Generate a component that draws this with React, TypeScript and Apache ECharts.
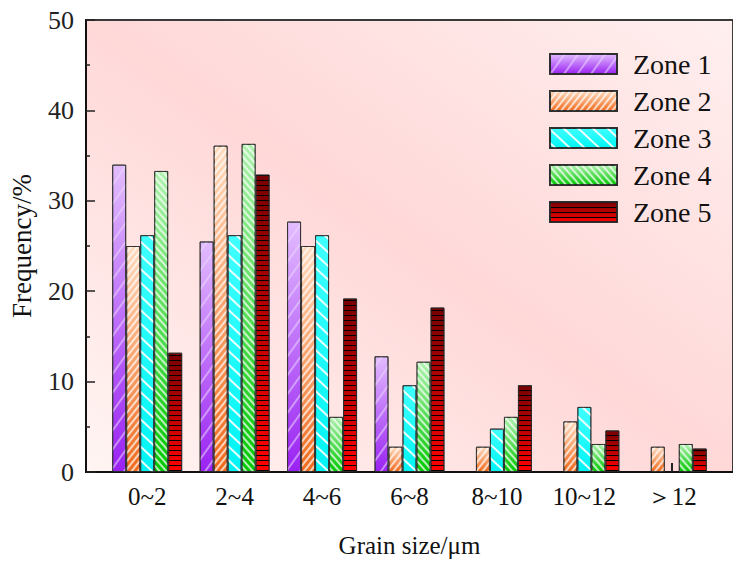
import React, { useEffect, useRef } from 'react';
import * as echarts from 'echarts';

const categories = ['0~2', '2~4', '4~6', '6~8', '8~10', '10~12', '＞12'];
const zoneNames = ['Zone 1', 'Zone 2', 'Zone 3', 'Zone 4', 'Zone 5'];
const zone1 = [34.0, 25.5, 27.7, 12.8, null, null, null];
const zone2 = [25.0, 36.1, 25.0, 2.8, 2.8, 5.6, 2.8];
const zone3 = [26.2, 26.2, 26.2, 9.6, 4.8, 7.2, null];
const zone4 = [33.3, 36.3, 6.1, 12.2, 6.1, 3.1, 3.1];
const zone5 = [13.2, 32.9, 19.2, 18.2, 9.6, 4.6, 2.6];
const yTickLabels = [0, 10, 20, 30, 40, 50];

const FONT = "'Liberation Serif', 'Times New Roman', serif";

const grad = (top: string, bottom: string) =>
  new echarts.graphic.LinearGradient(0, 0, 0, 1, [
    { offset: 0, color: top },
    { offset: 1, color: bottom },
  ]);

const styles = [
  {
    color: grad('#e2bcff', '#9a22f2'),
    decal: { symbol: 'rect', symbolSize: 1, color: 'rgba(235,215,255,0.55)', dashArrayX: [1, 0], dashArrayY: [1.2, 9], rotation: -0.95 },
  },
  {
    color: grad('#ffdcc0', '#f06a1c'),
    decal: { symbol: 'rect', symbolSize: 1, color: 'rgba(255,255,255,0.7)', dashArrayX: [1, 0], dashArrayY: [1.2, 2.6], rotation: -0.9 },
  },
  {
    color: grad('#40ffff', '#00f4f4'),
    decal: { symbol: 'rect', symbolSize: 1, color: 'rgba(255,255,255,0.9)', dashArrayX: [1, 0], dashArrayY: [1.2, 8], rotation: 0.75 },
  },
  {
    color: grad('#b0f2b0', '#00c800'),
    decal: { symbol: 'rect', symbolSize: 1, color: 'rgba(255,255,255,0.7)', dashArrayX: [1, 0], dashArrayY: [1.2, 2.6], rotation: 0.85 },
  },
  {
    color: grad('#780000', '#ff0000'),
    decal: { symbol: 'rect', symbolSize: 1, color: '#000000', dashArrayX: [1, 0], dashArrayY: [1, 3.4], rotation: 0 },
  },
];

const zones = [zone1, zone2, zone3, zone4, zone5];

export default function App() {
  const ref = useRef<HTMLDivElement>(null);
  useEffect(() => {
    if (!ref.current) return;
    document.body.style.margin = '0';
    const chart = echarts.init(ref.current, null, { renderer: 'svg' });
    const catValues = categories.map((_, i) => i + 1);
    chart.setOption({
      animation: false,
      backgroundColor: '#ffffff',
      grid: {
        left: 84,
        top: 20,
        bottom: 89,
        right: -8,
        show: true,
        borderColor: '#3a3a3a',
        borderWidth: 2,
        backgroundColor: new echarts.graphic.LinearGradient(0, 1, 1, 0, [
          { offset: 0, color: '#fff5f3' },
          { offset: 0.5, color: '#ffd8d8' },
          { offset: 1, color: '#ffefef' },
        ]),
      },
      legend: {
        orient: 'vertical',
        left: 549,
        top: 50,
        padding: 0,
        itemWidth: 67,
        itemHeight: 20,
        itemGap: 9,
        icon: 'rect',
        data: zoneNames,
        textStyle: { fontFamily: FONT, fontSize: 28, color: '#111', padding: [0, 0, 0, 11] },
      },
      xAxis: {
        type: 'value',
        min: 0.3,
        max: 7.7,
        name: 'Grain size/μm',
        nameLocation: 'middle',
        nameGap: 61,
        nameTextStyle: { fontFamily: FONT, fontSize: 25, color: '#111' },
        axisLine: { show: true, lineStyle: { color: '#111', width: 2 } },
        axisTick: { show: true, inside: true, length: 9, customValues: catValues, lineStyle: { color: '#222', width: 2 } },
        axisLabel: {
          customValues: catValues,
          margin: 12,
          fontFamily: FONT,
          fontSize: 25,
          color: '#111',
          formatter: (v: number) => categories[Math.round(v) - 1] ?? '',
        },
        splitLine: { show: false },
      },
      yAxis: {
        type: 'value',
        min: 0,
        max: 50,
        interval: 10,
        name: 'Frequency/%',
        nameLocation: 'middle',
        nameGap: 51,
        nameTextStyle: { fontFamily: FONT, fontSize: 27, color: '#111' },
        axisLine: { show: true, lineStyle: { color: '#111', width: 2 } },
        axisTick: { show: true, inside: true, length: 9, lineStyle: { color: '#222', width: 1.5 } },
        minorTick: { show: true, splitNumber: 2, length: 4, lineStyle: { color: '#222', width: 1.5 } },
        axisLabel: {
          margin: 12,
          fontFamily: FONT,
          fontSize: 26,
          color: '#222',
          formatter: (v: number) => (yTickLabels.includes(v) ? String(v) : ''),
        },
        splitLine: { show: false },
      },
      series: zones.map((vals, si) => ({
        type: 'bar',
        name: zoneNames[si],
        barWidth: 14,
        barGap: '0%',
        data: vals.map((v, i) => [i + 1, v == null ? '-' : v]),
        itemStyle: {
          color: styles[si].color,
          decal: styles[si].decal,
          borderColor: 'rgba(40,40,40,0.8)',
          borderWidth: 1,
        },
      })),
    });
    return () => chart.dispose();
  }, []);
  return <div ref={ref} style={{ width: 733, height: 563 }} />;
}
